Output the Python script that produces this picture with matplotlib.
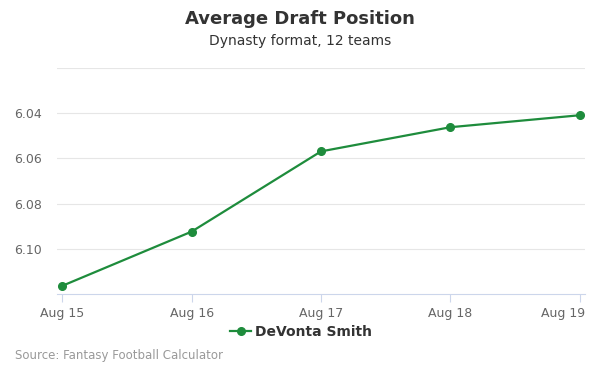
import numpy as np
import matplotlib.pyplot as plt
import matplotlib.transforms as mtrans

dates = ["Aug 15", "Aug 16", "Aug 17", "Aug 18", "Aug 19"]
adp = [6.1164, 6.0924, 6.0569, 6.0462, 6.0409]
yticks = [6.04, 6.06, 6.08, 6.10]
player = "DeVonta Smith"

fig = plt.figure(figsize=(6, 3.75), dpi=100)
ax = fig.add_axes([57/600, 1 - 294/375, 528/600, (294 - 68)/375])

x = np.arange(len(dates))
ax.plot(x, adp, color="#1e8c3c", lw=1.6, marker="o", ms=5.5, label=player, zorder=3)

ax.set_ylim(6.12, 6.02)
ax.set_xlim(-0.04, 4.04)
ax.set_yticks([6.02] + yticks)
ax.set_yticklabels([""] + ["%.2f" % v for v in yticks])
ax.set_xticks(x)
ax.set_xticklabels(dates)
ax.grid(axis="y", color="#e6e6e6", lw=0.8)
ax.set_axisbelow(True)
for s in ["top", "right", "left"]:
    ax.spines[s].set_visible(False)
ax.spines["bottom"].set_color("#ccd6eb")
ax.tick_params(axis="y", length=0, labelsize=9, labelcolor="#666666", pad=11)
ax.tick_params(axis="x", length=6, color="#ccd6eb", labelsize=9, labelcolor="#666666")
# keep the last date label inside the figure, like the reference
last = ax.get_xticklabels()[-1]
last.set_horizontalalignment("right")
last.set_transform(last.get_transform() + mtrans.ScaledTranslation(5/100, 0, fig.dpi_scale_trans))

fig.text(0.5, 1 - 19/375, "Average Draft Position", ha="center", va="center",
         fontsize=13, fontweight="bold", color="#333333")
fig.text(0.5, 1 - 41/375, "Dynasty format, 12 teams", ha="center", va="center",
         fontsize=10, color="#333333")
fig.text(15/600, 1 - 356/375, "Source: Fantasy Football Calculator", ha="left", va="center",
         fontsize=8.5, color="#999999")

leg = fig.legend(loc="center", bbox_to_anchor=(0.502, 1 - 332/375), frameon=False,
                 prop={"weight": "bold", "size": 10}, handlelength=1.5, handletextpad=0.3)
for t in leg.get_texts():
    t.set_color("#333333")

fig.savefig("out.png", dpi=100)
